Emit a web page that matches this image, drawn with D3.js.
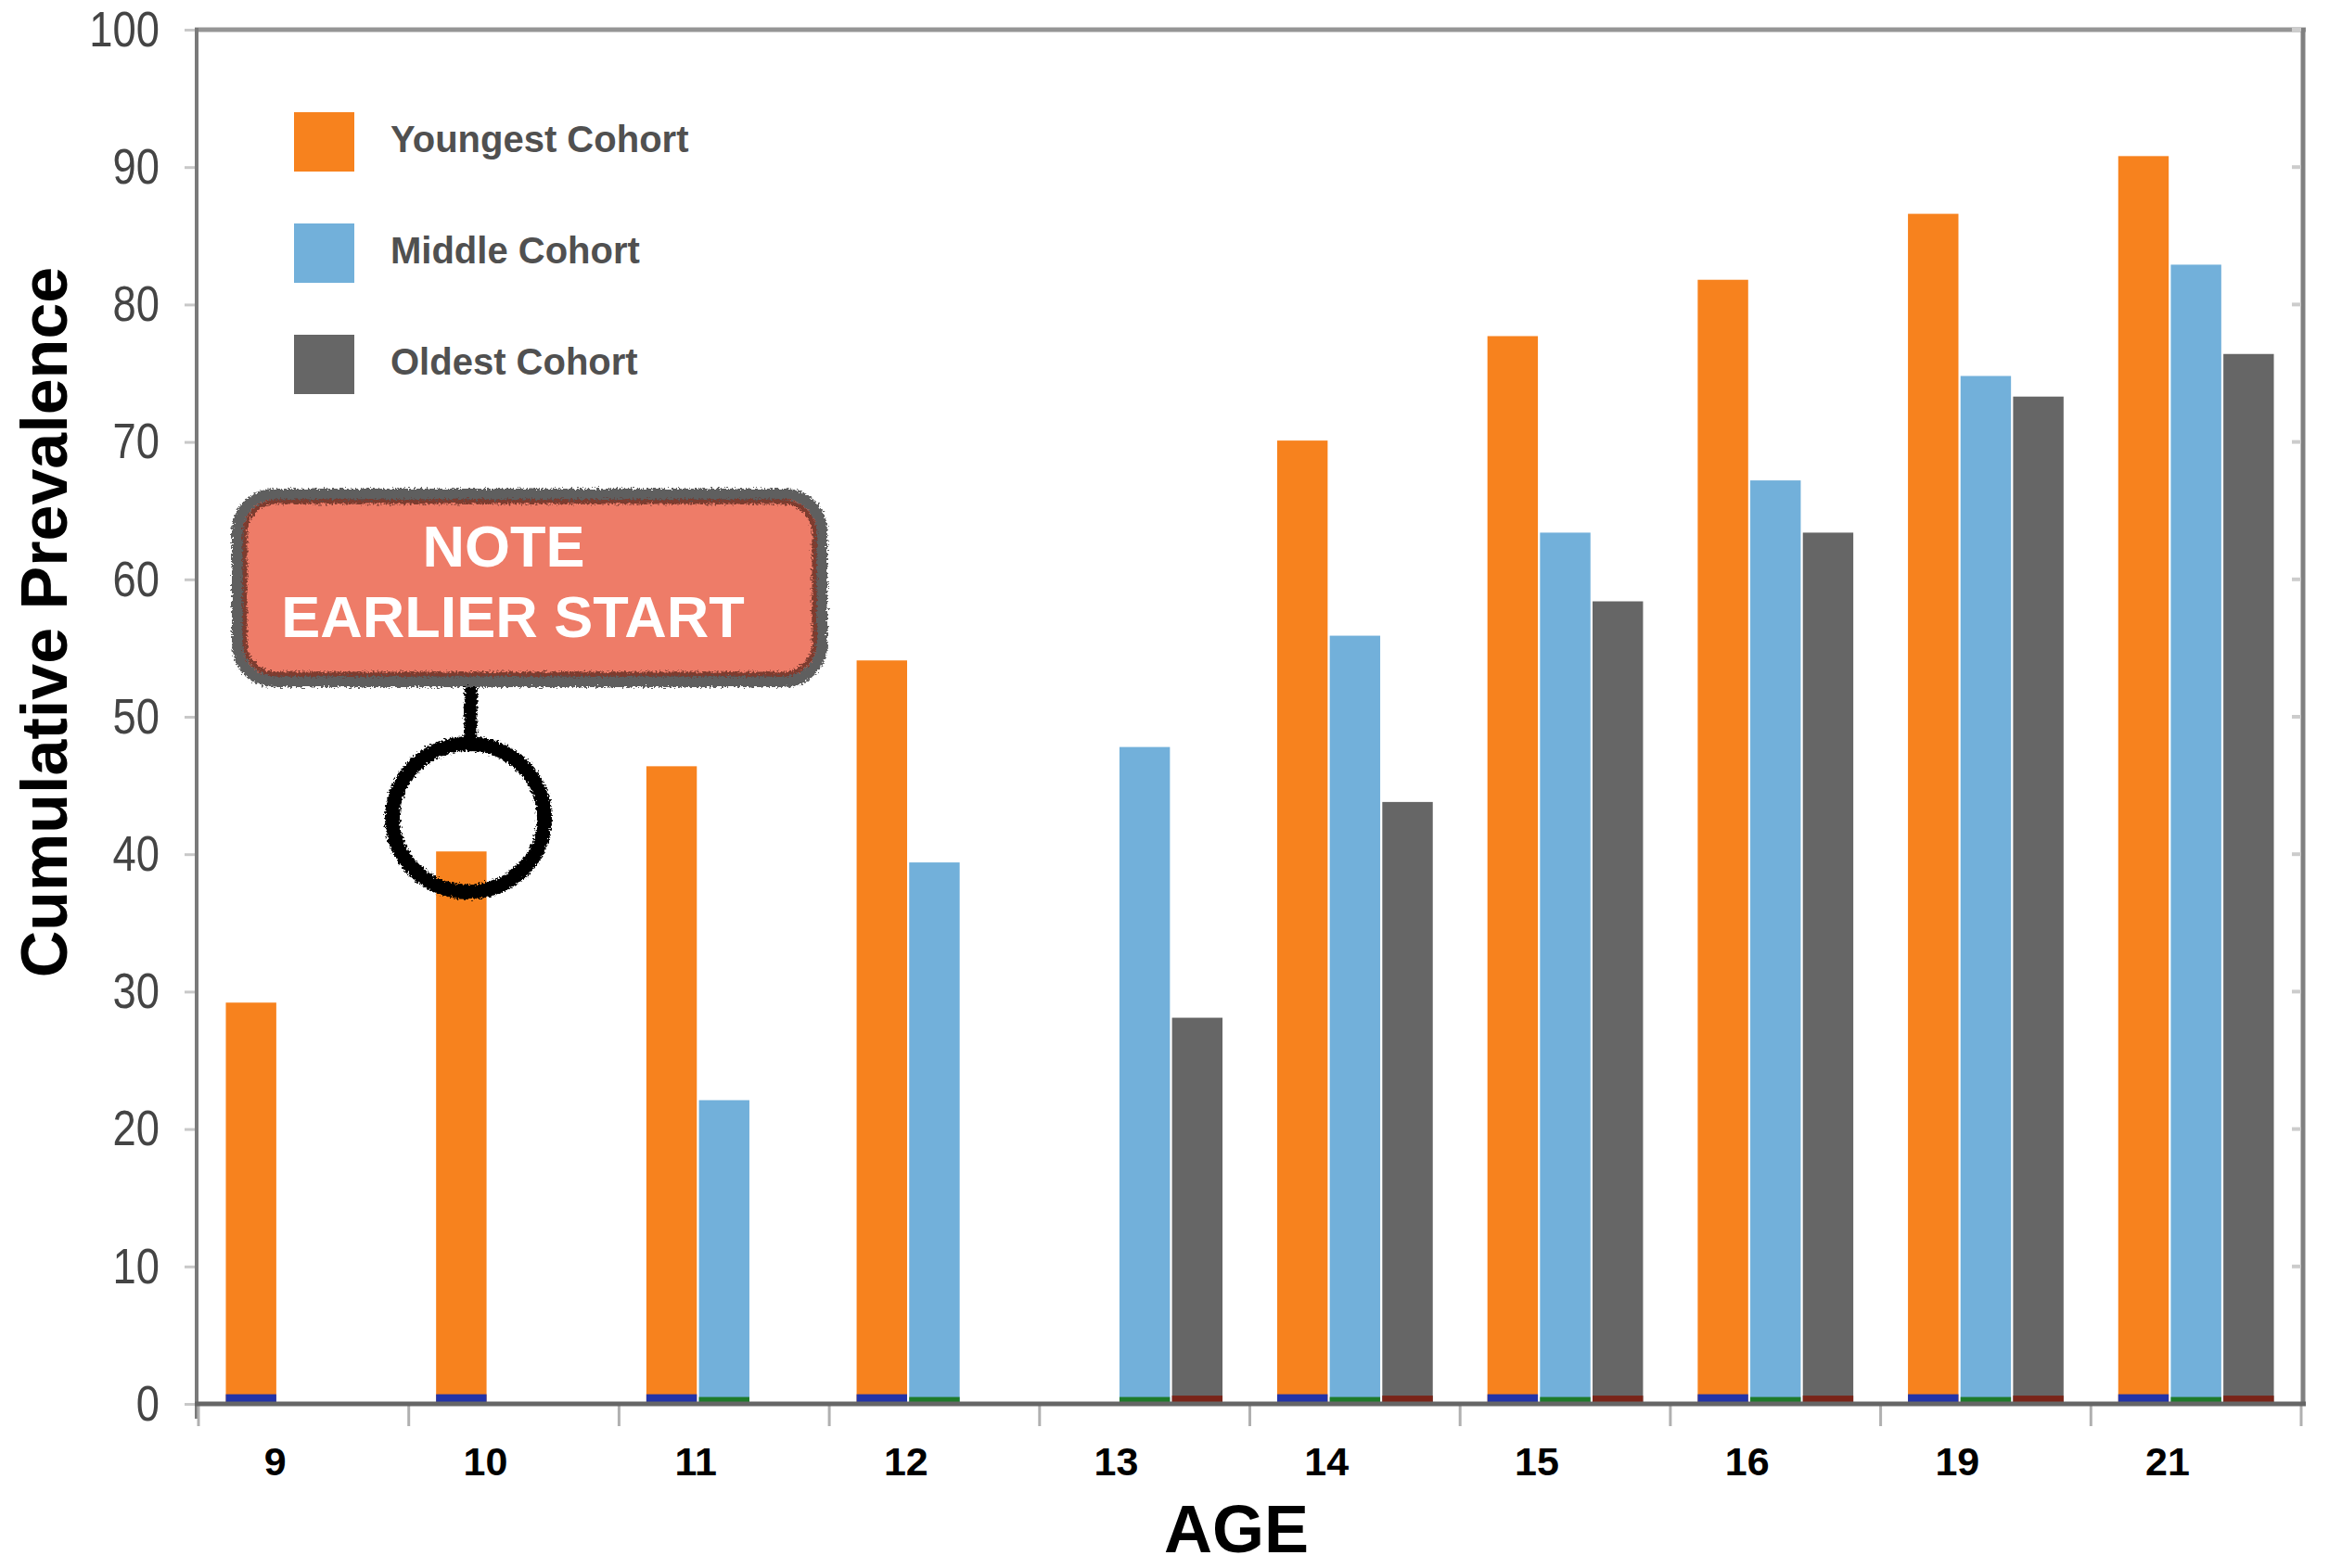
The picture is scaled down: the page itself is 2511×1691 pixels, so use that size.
<!DOCTYPE html>
<html>
<head>
<meta charset="utf-8">
<script src="https://cdn.jsdelivr.net/npm/d3@7"></script>
<style>
  html, body { margin: 0; padding: 0; background: #ffffff; }
  svg { display: block; }
  text { font-family: "Liberation Sans", Arial, Helvetica, sans-serif; }
</style>
</head>
<body>
<svg id="chart" width="2511" height="1691"></svg>
<script>
// ---------- data ----------
const ages = ["9", "10", "11", "12", "13", "14", "15", "16", "19", "21"];
const seriesNames = ["Youngest Cohort", "Middle Cohort", "Oldest Cohort"];
const youngest = [29.2, 40.2, 46.4, 54.1, null, 70.1, 77.7, 81.8, 86.6, 90.8];
const middle   = [null, null, 22.1, 39.4, 47.8, 55.9, 63.4, 67.2, 74.8, 82.9];
const oldest   = [null, null, null, null, 28.1, 43.8, 58.4, 63.4, 73.3, 76.4];
const baseStrip = [0.7, 0.5, 0.6];        // thin dark strips at the foot of each bar
const yTicks = [0, 10, 20, 30, 40, 50, 60, 70, 80, 90, 100];
const noteLines = ["NOTE", "EARLIER START"];

// ---------- styles ----------
const colors = ["#F7821E", "#72B0DA", "#666666"];
const stripColors = ["#2233A8", "#1E7A2A", "#7A2418"];

(function () {
const svg = d3.select("#chart");
const pLeft = 214, pRight = 2481, pTop = 32, pBottom = 1514;

const x0 = d3.scaleBand().domain(ages).range([pLeft, pRight]).paddingInner(0.26).paddingOuter(0.13);
const x1 = d3.scaleBand().domain(seriesNames).range([0, x0.bandwidth()]).paddingInner(0.04);
const y = d3.scaleLinear().domain([0, 100]).range([pBottom, pTop]);

const seriesVals = [youngest, middle, oldest];
const rows = [];
seriesVals.forEach((vals, si) => {
  vals.forEach((v, ci) => {
    if (v != null) rows.push({ age: ages[ci], s: seriesNames[si], si, v });
  });
});

// rough filter for the hand-drawn annotation
const defs = svg.append("defs");
const f = defs.append("filter").attr("id", "rough")
  .attr("filterUnits", "userSpaceOnUse")
  .attr("x", 0).attr("y", 0).attr("width", 2511).attr("height", 1691);
f.append("feTurbulence").attr("type", "fractalNoise").attr("baseFrequency", 0.45).attr("numOctaves", 2).attr("seed", 3).attr("result", "noise");
f.append("feDisplacementMap").attr("in", "SourceGraphic").attr("in2", "noise").attr("scale", 8).attr("xChannelSelector", "R").attr("yChannelSelector", "G");

// ---------- bars ----------
const gBars = svg.append("g");
gBars.selectAll("rect.bar").data(rows).join("rect")
  .attr("class", "bar")
  .attr("x", d => x0(d.age) + x1(d.s))
  .attr("width", x1.bandwidth())
  .attr("y", d => y(d.v))
  .attr("height", d => y(0) - y(d.v))
  .attr("fill", d => colors[d.si]);

gBars.selectAll("rect.strip").data(rows).join("rect")
  .attr("class", "strip")
  .attr("x", d => x0(d.age) + x1(d.s))
  .attr("width", x1.bandwidth())
  .attr("y", d => y(baseStrip[d.si]))
  .attr("height", d => y(0) - y(baseStrip[d.si]))
  .attr("fill", d => stripColors[d.si]);

// ---------- frame ----------
svg.append("line").attr("x1", pLeft - 4).attr("x2", pRight + 5).attr("y1", pTop).attr("y2", pTop)
  .attr("stroke", "#959595").attr("stroke-width", 5);
svg.append("line").attr("x1", pRight + 2).attr("x2", pRight + 2).attr("y1", pTop - 2).attr("y2", pBottom)
  .attr("stroke", "#808080").attr("stroke-width", 5);

// right-side faint ticks
svg.append("g").selectAll("line").data(yTicks).join("line")
  .attr("x1", pRight - 10).attr("x2", pRight).attr("y1", d => y(d)).attr("y2", d => y(d))
  .attr("stroke", "#cccccc").attr("stroke-width", 4);

// y axis
const yAxis = d3.axisLeft(y).tickValues(yTicks).tickSize(15).tickSizeOuter(0).tickFormat(d3.format("d"));
const gy = svg.append("g").attr("transform", `translate(${pLeft},0)`).call(yAxis);
gy.select(".domain").remove();
gy.selectAll(".tick line").attr("stroke", "#c8c8c8").attr("stroke-width", 3);
gy.selectAll(".tick text")
  .attr("x", 0)
  .attr("transform", "translate(-42,0) scale(0.84,1)")
  .attr("font-size", 54)
  .attr("fill", "#444444")
  .attr("font-family", "'Liberation Sans', Arial, sans-serif");
svg.append("line").attr("x1", pLeft - 2).attr("x2", pLeft - 2).attr("y1", pTop - 2).attr("y2", pBottom + 16)
  .attr("stroke", "#7a7a7a").attr("stroke-width", 4);

// x axis (ticks at category boundaries)
const boundaries = ages.map(a => x0(a) - x0.step() * x0.paddingOuter()).concat([pRight]);
svg.append("g").selectAll("line").data(boundaries).join("line")
  .attr("x1", d => d).attr("x2", d => d).attr("y1", pBottom).attr("y2", pBottom + 24)
  .attr("stroke", "#b0b0b0").attr("stroke-width", 3);
svg.append("line").attr("x1", pLeft - 4).attr("x2", pRight + 5).attr("y1", pBottom).attr("y2", pBottom)
  .attr("stroke", "#666666").attr("stroke-width", 5);

// x tick labels
svg.append("g").selectAll("text").data(ages).join("text")
  .attr("x", d => x0(d) - x0.step() * x0.paddingOuter() + x0.step() * 0.365)
  .attr("y", 1591)
  .attr("text-anchor", "middle")
  .attr("font-size", 43)
  .attr("font-weight", "bold")
  .attr("fill", "#000")
  .text(d => d);

// axis titles
svg.append("text")
  .attr("x", 1333).attr("y", 1674)
  .attr("text-anchor", "middle")
  .attr("font-size", 72).attr("font-weight", "bold").attr("fill", "#000")
  .text("AGE");
svg.append("text")
  .attr("transform", "translate(72,671) rotate(-90)")
  .attr("text-anchor", "middle")
  .attr("font-size", 70).attr("font-weight", "bold").attr("fill", "#000")
  .text("Cumulative Prevalence");

// ---------- legend ----------
const lg = svg.append("g").attr("transform", "translate(317,121)");
const li = lg.selectAll("g").data(seriesNames).join("g").attr("transform", (d, i) => `translate(0,${i * 120})`);
li.append("rect").attr("width", 65).attr("height", 64).attr("fill", (d, i) => colors[i]);
li.append("text").attr("x", 104).attr("y", 43)
  .attr("font-size", 40).attr("font-weight", "bold").attr("fill", "#505050")
  .text(d => d);

// ---------- annotation ----------
const ann = svg.append("g");
ann.append("path").attr("d", "M508,736 L507,806")
  .attr("fill", "none").attr("stroke", "#000").attr("stroke-width", 14).attr("filter", "url(#rough)");
ann.append("ellipse").attr("cx", 505).attr("cy", 882).attr("rx", 82).attr("ry", 80)
  .attr("fill", "none").attr("stroke", "#000").attr("stroke-width", 16).attr("filter", "url(#rough)");
ann.append("rect").attr("x", 256).attr("y", 533).attr("width", 630).attr("height", 202).attr("rx", 40)
  .attr("fill", "#EE7B68").attr("stroke", "#5e5e5e").attr("stroke-width", 12).attr("filter", "url(#rough)");
ann.append("rect").attr("x", 264).attr("y", 541).attr("width", 614).attr("height", 186).attr("rx", 34)
  .attr("fill", "none").attr("stroke", "#6a3028").attr("stroke-width", 5).attr("opacity", 0.85).attr("filter", "url(#rough)");
ann.append("text").attr("x", 543).attr("y", 611).attr("text-anchor", "middle")
  .attr("font-size", 63).attr("font-weight", "bold").attr("fill", "#ffffff").text(noteLines[0]);
ann.append("text").attr("x", 553).attr("y", 687).attr("text-anchor", "middle")
  .attr("font-size", 63).attr("font-weight", "bold").attr("fill", "#ffffff").text(noteLines[1]);
})();
</script>
</body>
</html>
